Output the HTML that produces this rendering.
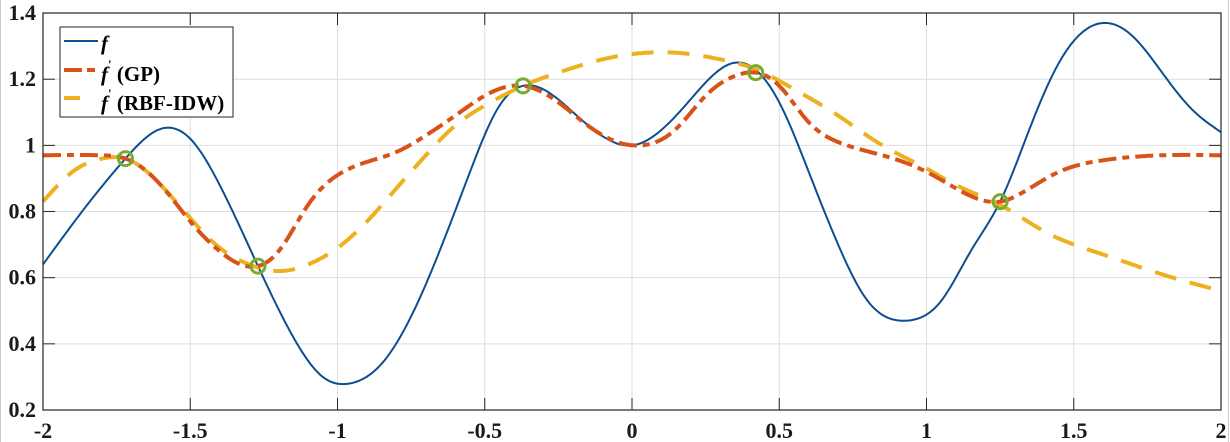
<!DOCTYPE html>
<html><head><meta charset="utf-8"><style>
html,body{margin:0;padding:0;background:#fff;}
svg{display:block;font-family:"Liberation Serif",serif;}
</style></head><body>
<svg id="s" width="1230" height="442" xmlns="http://www.w3.org/2000/svg">
<rect x="0" y="0" width="1230" height="442" fill="#fff"/>
<line x1="0.5" y1="0" x2="0.5" y2="442" stroke="#ccc"/>
<line x1="1228.5" y1="0" x2="1228.5" y2="442" stroke="#ccc"/>
<g id="grid"></g>
<g id="curves"></g>
<rect x="43" y="13" width="1178" height="397" fill="none" stroke="#262626" stroke-width="1.2"/>
<g id="labels" font-weight="bold" font-size="22" fill="#1a1a1a"></g>
<g>
<rect x="60" y="27" width="173" height="90" fill="#fff" stroke="#262626" stroke-width="1"/>
<line x1="64" y1="41" x2="98" y2="41" stroke="#0b4f91" stroke-width="2"/>
<line x1="64" y1="70" x2="98" y2="70" stroke="#d95319" stroke-width="4" stroke-dasharray="18,5,8,5"/>
<line x1="64" y1="98" x2="80" y2="98" stroke="#edb120" stroke-width="4"/>
<text x="101" y="50" font-size="21" font-style="italic" font-weight="bold">f</text>
<text x="101" y="81" font-size="21" font-weight="bold"><tspan font-style="italic">f</tspan><tspan font-size="13" dy="-12">'</tspan><tspan dy="12"> (GP)</tspan></text>
<text x="101" y="110" font-size="21" font-weight="bold"><tspan font-style="italic">f</tspan><tspan font-size="13" dy="-12">'</tspan><tspan dy="12"> (RBF-IDW)</tspan></text>
</g>
</svg>
<script>
var X=function(x){return 43+(x+2)*294.5;},Y=function(y){return 410-(y-0.2)*330.8;};
var ns="http://www.w3.org/2000/svg";
function el(p,t,a){var e=document.createElementNS(ns,t);for(var k in a)e.setAttribute(k,a[k]);p.appendChild(e);return e;}
var g=document.getElementById('grid'),L=document.getElementById('labels');
[-2,-1.5,-1,-0.5,0,0.5,1,1.5,2].forEach(function(v){var x=X(v);el(g,'line',{x1:x,y1:13,x2:x,y2:410,stroke:'#dedede','stroke-width':1});
el(g,'line',{x1:x,y1:410,x2:x,y2:398,stroke:'#262626'});el(g,'line',{x1:x,y1:13,x2:x,y2:25,stroke:'#262626'});
var t=el(L,'text',{x:x,y:438,'text-anchor':'middle'});t.textContent=String(v);});
[0.2,0.4,0.6,0.8,1,1.2,1.4].forEach(function(v){var y=Y(v);el(g,'line',{x1:43,y1:y,x2:1221,y2:y,stroke:'#dedede','stroke-width':1});
el(g,'line',{x1:43,y1:y,x2:55,y2:y,stroke:'#262626'});el(g,'line',{x1:1221,y1:y,x2:1209,y2:y,stroke:'#262626'});
var t=el(L,'text',{x:36,y:y+7,'text-anchor':'end'});t.textContent=String(v);});
function spline(pts){var n=pts.length,x=pts.map(function(p){return p[0]}),y=pts.map(function(p){return p[1]});
var h=[],al=[],l=[1],mu=[0],z=[0],c=new Array(n).fill(0),b=[],d=[];
for(var i=0;i<n-1;i++)h[i]=x[i+1]-x[i];
for(i=1;i<n-1;i++)al[i]=3/h[i]*(y[i+1]-y[i])-3/h[i-1]*(y[i]-y[i-1]);
for(i=1;i<n-1;i++){l[i]=2*(x[i+1]-x[i-1])-h[i-1]*mu[i-1];mu[i]=h[i]/l[i];z[i]=(al[i]-h[i-1]*z[i-1])/l[i];}
for(i=n-2;i>=0;i--){c[i]=(i<n-1?z[i]||0:0)-mu[i]*c[i+1];if(i===0)c[0]=0;b[i]=(y[i+1]-y[i])/h[i]-h[i]*(c[i+1]+2*c[i])/3;d[i]=(c[i+1]-c[i])/(3*h[i]);}
var s='';for(var px=0;px<=1178;px+=2){var xv=-2+px/294.5;var j=0;while(j<n-2&&xv>x[j+1])j++;var t=xv-x[j];
var yv=y[j]+b[j]*t+c[j]*t*t+d[j]*t*t*t;s+=(px?'L':'M')+X(xv).toFixed(1)+','+Y(yv).toFixed(1);}return s;}
var c=document.getElementById('curves');
var f=[[-2,.64],[-1.85,.82],[-1.72,.96],[-1.6,1.05],[-1.5,1.02],[-1.4,.88],[-1.27,.635],[-1.15,.42],[-1.05,.30],[-0.96,.28],[-0.85,.34],[-0.7,.58],[-0.55,.92],[-0.45,1.12],[-0.37,1.18],[-0.2,1.10],[0,1.0],[0.2,1.14],[0.35,1.25],[0.5,1.13],[0.6,.92],[0.7,.70],[0.8,.53],[0.93,.47],[1.05,.53],[1.15,.68],[1.25,.83],[1.35,1.05],[1.45,1.25],[1.6,1.37],[1.7,1.33],[1.8,1.22],[1.9,1.11],[2,1.04]];
var gp=[[-2,.97],[-1.8,.97],[-1.72,.96],[-1.6,.88],[-1.5,.77],[-1.4,.68],[-1.27,.635],[-1.2,.68],[-1.1,.82],[-1.0,.91],[-0.9,.95],[-0.8,.98],[-0.7,1.03],[-0.6,1.09],[-0.5,1.15],[-0.37,1.18],[-0.25,1.13],[-0.15,1.06],[-0.05,1.01],[0.03,1.0],[0.15,1.05],[0.25,1.15],[0.35,1.21],[0.42,1.22],[0.5,1.18],[0.6,1.07],[0.7,1.01],[0.85,.97],[1.0,.92],[1.1,.87],[1.25,.83],[1.35,.87],[1.45,.92],[1.6,.955],[1.8,.97],[2,.97]];
var rb=[[-2,.83],[-1.9,.92],[-1.8,.96],[-1.72,.96],[-1.6,.88],[-1.5,.78],[-1.4,.69],[-1.3,.64],[-1.2,.62],[-1.1,.64],[-1.0,.69],[-0.9,.77],[-0.8,.87],[-0.7,.97],[-0.6,1.06],[-0.5,1.12],[-0.37,1.18],[-0.25,1.22],[-0.1,1.26],[0.05,1.28],[0.15,1.28],[0.3,1.26],[0.42,1.23],[0.55,1.17],[0.7,1.09],[0.85,1.0],[1.0,.93],[1.1,.88],[1.25,.82],[1.4,.74],[1.6,.67],[1.8,.61],[2,.56]];
el(c,'path',{d:spline(f),fill:'none',stroke:'#0b4f91','stroke-width':2});
el(c,'path',{d:spline(rb),fill:'none',stroke:'#edb120','stroke-width':4,'stroke-dasharray':'22,14'});
el(c,'path',{d:spline(gp),fill:'none',stroke:'#d95319','stroke-width':4,'stroke-dasharray':'18,6,7,6'});
[[-1.72,.96],[-1.27,.635],[-0.37,1.18],[0.42,1.22],[1.25,.83]].forEach(function(q){el(c,'circle',{cx:X(q[0]),cy:Y(q[1]),r:7,fill:'none',stroke:'#77ac30','stroke-width':3});});
</script>
</body></html>
